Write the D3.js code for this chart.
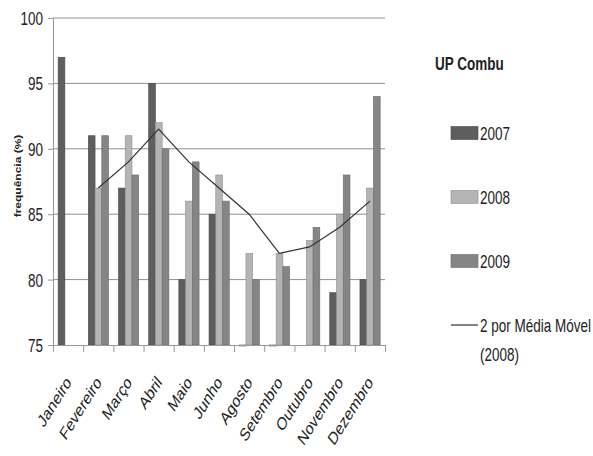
<!DOCTYPE html>
<html>
<head>
<meta charset="utf-8">
<script src="https://cdn.jsdelivr.net/npm/d3@7"></script>
<style>
  body { margin: 0; background: #fff; }
  text { font-family: "Liberation Sans", Arial, sans-serif; fill: #222; }
  .axis path, .axis line { stroke: #999; }
</style>
</head>
<body>
<div id="chart"></div>
<script>
// data
var months = ["Janeiro", "Fevereiro", "Março", "Abril", "Maio", "Junho",
	"Agosto", "Setembro", "Outubro", "Novembro", "Dezembro"];
var v2007 = [97, 91, 87, 95, 80, 85, 75, 75, null, 79, 80];
var v2008 = [null, 87, 91, 92, 86, 88, 82, 82, 83, 85, 87];
var v2009 = [null, 91, 88, 90, 89, 86, 80, 81, 84, 88, 94];
var movAvg2008 = [null, 87, 89, 91.5, 89, 87, 85, 82, 82.5, 84, 86];
var seriesNames = ["2007", "2008", "2009"];
var yTicks = [75, 80, 85, 90, 95, 100];
var legendTitle = "UP Combu";
var lineLabel = ["2 por Média Móvel", "(2008)"];
var yLabel = "frequência (%)";

var width = 593, height = 456;
var margin = {left: 53, top: 18, right: 208, bottom: 111};
var squish = 0.75; // text in the picture is horizontally compressed
var colors = {"2007": "#5e5e5e", "2008": "#b4b4b4", "2009": "#858585"};
var strokes = {"2007": "#4a4a4a", "2008": "#8e8e8e", "2009": "#6b6b6b"};

function sq(x, y, extra) {
	return "translate(" + x + "," + y + ") scale(" + squish + ",1)" + (extra || "");
}

var svg = d3.select("#chart").append("svg")
	.attr("width", width)
	.attr("height", height);

var x = d3.scaleBand()
	.domain(months)
	.range([margin.left, width - margin.right])
	.paddingInner(0).paddingOuter(0);

var xInner = d3.scaleBand()
	.domain(seriesNames)
	.range([x.bandwidth() * 0.17, x.bandwidth() * 0.84])
	.padding(0);

var xEdge = d3.scaleLinear()
	.domain([0, months.length])
	.range([margin.left, width - margin.right]);

var y = d3.scaleLinear()
	.domain([75, 100])
	.range([height - margin.bottom, margin.top]);

// gridlines
svg.append("g").selectAll("line")
	.data(yTicks.slice(1))
	.enter().append("line")
	.attr("x1", margin.left).attr("x2", width - margin.right)
	.attr("y1", function(d) { return y(d); })
	.attr("y2", function(d) { return y(d); })
	.attr("stroke", "#8f8f8f")
	.attr("stroke-width", 1);

// bars
var table = [];
seriesNames.forEach(function(s, j) {
	var vals = [v2007, v2008, v2009][j];
	months.forEach(function(m, i) {
		if (vals[i] != null) table.push({month: m, series: s, value: vals[i]});
	});
});

svg.append("g").selectAll("rect")
	.data(table)
	.enter().append("rect")
	.attr("x", function(d) { return x(d.month) + xInner(d.series); })
	.attr("y", function(d) { return y(d.value); })
	.attr("width", xInner.bandwidth())
	.attr("height", function(d) { return Math.max(1, y(75) - y(d.value)); })
	.attr("fill", function(d) { return colors[d.series]; })
	.attr("stroke", function(d) { return strokes[d.series]; })
	.attr("stroke-width", 0.6);

// moving average line
var line = d3.line()
	.defined(function(d) { return d != null; })
	.x(function(d, i) { return x(months[i]) + x.bandwidth() / 2; })
	.y(function(d) { return y(d); });

svg.append("path")
	.datum(movAvg2008)
	.attr("d", line)
	.attr("fill", "none")
	.attr("stroke", "#333")
	.attr("stroke-width", 1.2);

// y axis
var yAxis = svg.append("g")
	.attr("class", "axis")
	.attr("transform", "translate(" + margin.left + ",0)")
	.call(d3.axisLeft(y).tickValues(yTicks).tickSize(5).tickSizeOuter(0));
yAxis.selectAll("text")
	.attr("x", null).attr("dy", "0.36em")
	.attr("transform", sq(-10, 0))
	.style("font-size", "18px")
	.style("fill", "#222");

// x axis (ticks between the months)
var xAxis = svg.append("g")
	.attr("class", "axis")
	.attr("transform", "translate(0," + y(75) + ")")
	.call(d3.axisBottom(xEdge).tickValues(d3.range(months.length + 1))
		.tickFormat("").tickSize(7).tickSizeOuter(0));

svg.append("g").selectAll("text")
	.data(months)
	.enter().append("text")
	.attr("transform", function(d) {
		return sq(x(d) + x.bandwidth() / 2 + 4, 383, " rotate(-50)");
	})
	.attr("text-anchor", "end")
	.style("font-size", "18px")
	.text(function(d) { return d; });

// y label
svg.append("text")
	.attr("transform", sq(21, 176, " rotate(-90)"))
	.attr("text-anchor", "middle")
	.style("font-size", "12px")
	.style("font-weight", "bold")
	.text(yLabel);

// legend
var legend = svg.append("g");
legend.append("text")
	.attr("transform", sq(435, 70))
	.style("font-size", "18px")
	.style("font-weight", "bold")
	.text(legendTitle);

var legendY = d3.scalePoint()
	.domain(seriesNames.concat(["line"]))
	.range([133, 325]);

seriesNames.forEach(function(s) {
	legend.append("rect")
		.attr("x", 451).attr("y", legendY(s) - 6.5)
		.attr("width", 27).attr("height", 13)
		.attr("fill", colors[s])
		.attr("stroke", strokes[s])
		.attr("stroke-width", 0.6);
	legend.append("text")
		.attr("transform", sq(480, legendY(s) + 6.5))
		.style("font-size", "18px")
		.text(s);
});

legend.append("line")
	.attr("x1", 451).attr("x2", 478)
	.attr("y1", legendY("line")).attr("y2", legendY("line"))
	.attr("stroke", "#333").attr("stroke-width", 1.2);
lineLabel.forEach(function(t, i) {
	legend.append("text")
		.attr("transform", sq(480, legendY("line") + 6.5 + i * 29))
		.style("font-size", "18px")
		.text(t);
});
</script>
</body>
</html>
